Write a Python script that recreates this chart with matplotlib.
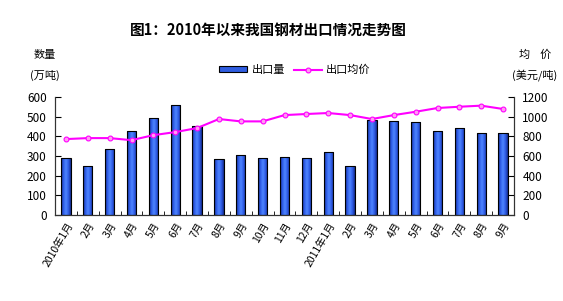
import matplotlib
matplotlib.use("Agg")
import matplotlib.pyplot as plt
import numpy as np
from matplotlib.colors import LinearSegmentedColormap

plt.rcParams['font.family'] = ['Noto Sans CJK SC', 'DejaVu Sans']

months = ["2010年1月", "2月", "3月", "4月", "5月", "6月", "7月", "8月", "9月", "10月", "11月", "12月",
          "2011年1月", "2月", "3月", "4月", "5月", "6月", "7月", "8月", "9月"]
volume = [289, 248, 337, 428, 495, 561, 454, 286, 306, 291, 296, 289,
          318, 248, 485, 479, 474, 428, 444, 418, 418]
price = [772, 782, 782, 761, 812, 843, 884, 976, 952, 952, 1016, 1027,
         1037, 1016, 976, 1016, 1050, 1088, 1101, 1112, 1078]

fig = plt.figure(figsize=(5.63, 3.01), dpi=100)
ax = fig.add_axes([55/563, 1-215/301, (514-55)/563, (215-97)/301])
ax2 = ax.twinx()

x = np.arange(len(months))
bars = ax.bar(x, volume, width=0.42, color='#2f5de0', edgecolor='black', linewidth=0.8,
              label='出口量', zorder=2)

cmap = LinearSegmentedColormap.from_list('bg', ['#142a8c', '#2f5de8', '#4f86ff', '#2f5de8', '#142a8c'])
grad = np.linspace(0, 1, 64).reshape(1, -1)
for b in bars:
    bx, by = b.get_x(), b.get_y()
    bw, bh = b.get_width(), b.get_height()
    im = ax.imshow(grad, cmap=cmap, aspect='auto', extent=(bx, bx + bw, by, by + bh),
                   zorder=2.1, interpolation='bilinear')
    im.set_clip_path(b)
    b.set_facecolor('none')
    b.set_zorder(2.2)

ax2.plot(x, price, color='#ff00ff', linewidth=1.5, marker='o', markersize=3.5,
         markerfacecolor='#ff9cf0', markeredgecolor='#ff00ff', markeredgewidth=0.8,
         label='出口均价', zorder=3)

ax.set_xlim(-0.5, len(months)-0.5)
ax.set_ylim(0, 600)
ax2.set_ylim(0, 1200)
ax.set_yticks(range(0, 601, 100))
ax2.set_yticks(range(0, 1201, 200))
ax.set_xticks(x)
ax.set_xticklabels(months, rotation=60, ha='right', rotation_mode='anchor', fontsize=7.5)
ax.set_xticks(np.arange(-0.5, len(months), 1), minor=True)
ax.tick_params(axis='x', which='major', length=0, pad=4)
ax.tick_params(axis='x', which='minor', direction='in', length=3)
ax.tick_params(axis='y', direction='in', length=4, labelsize=8.5, pad=6)
ax2.tick_params(axis='y', direction='in', length=4, labelsize=8.5, pad=6)

for a in (ax, ax2):
    a.spines['top'].set_visible(False)
    for s in ('left', 'right', 'bottom'):
        a.spines[s].set_linewidth(0.8)
        a.spines[s].set_color('#333333')

ax2.set_zorder(ax.get_zorder() + 1)
ax2.patch.set_visible(False)

fig.text(0.477, 1-30/301, '图1：2010年以来我国钢材出口情况走势图', ha='center', va='center',
         fontsize=10.5, fontweight='bold')
fig.text(45/563, 1-55/301, '数量', ha='center', va='center', fontsize=8)
fig.text(45/563, 1-75/301, '(万吨)', ha='center', va='center', fontsize=8)
fig.text(535/563, 1-55/301, '均    价', ha='center', va='center', fontsize=8)
fig.text(535/563, 1-75/301, '(美元/吨)', ha='center', va='center', fontsize=8)

h1, l1 = ax.get_legend_handles_labels()
h2, l2 = ax2.get_legend_handles_labels()
leg = fig.legend(h1 + h2, l1 + l2, loc='center', bbox_to_anchor=(295/563, 1-70/301), ncol=2,
                 frameon=False, fontsize=8, handlelength=2.5, handleheight=0.5,
                 columnspacing=0.8, handletextpad=0.4)
leg.legend_handles[0].set_facecolor('#2f5de0')

fig.savefig('out.png', dpi=100)
